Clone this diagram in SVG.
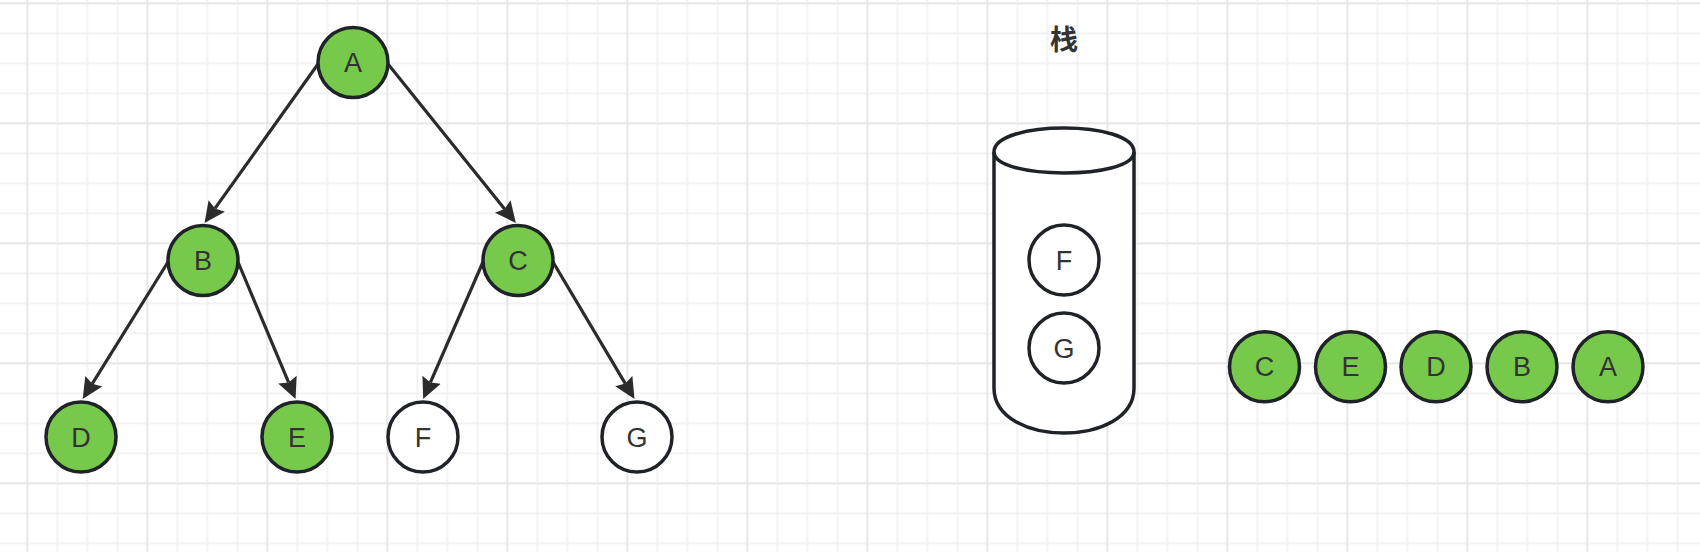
<svg xmlns="http://www.w3.org/2000/svg" width="1700" height="552" viewBox="0 0 1700 552">
  <defs>
    <pattern id="minor" x="26.5" y="2.5" width="30" height="30" patternUnits="userSpaceOnUse">
      <path d="M0.75,0 V30 M0,0.75 H30" fill="none" stroke="#efefef" stroke-width="1.5"/>
    </pattern>
    <pattern id="major" x="26.5" y="2.5" width="120" height="120" patternUnits="userSpaceOnUse">
      <path d="M0.75,0 V120 M0,0.75 H120" fill="none" stroke="#e4e4e4" stroke-width="1.5"/>
    </pattern>
    <marker id="arrow" viewBox="0 -11 22 22" refX="3" refY="0" markerWidth="22" markerHeight="22" markerUnits="userSpaceOnUse" orient="auto">
      <path d="M0,-10 L21,0 L0,10 L3,0 Z" fill="#2b2b2b"/>
    </marker>
    <style>
      .node { stroke: #1f2328; stroke-width: 3.5; }
      .green { fill: #76c94a; }
      .white { fill: #ffffff; }
      .label { font-family: "Liberation Sans", Arial, sans-serif; font-size: 27px; fill: #333333; text-anchor: middle; }
      .edge { fill: none; stroke: #2b2b2b; stroke-width: 3.2; marker-end: url(#arrow); }
      .title { font-family: "Liberation Sans", "Noto Sans CJK SC", sans-serif; font-size: 28px; font-weight: bold; fill: #333333; text-anchor: middle; }
    </style>
  </defs>
  <rect width="1700" height="552" fill="#ffffff"/>
  <rect width="1700" height="552" fill="url(#minor)"/>
  <rect width="1700" height="552" fill="url(#major)"/>

  <g id="connectors">
    <line class="edge" x1="318" y1="64" x2="215" y2="208.4"/>
    <line class="edge" x1="388" y1="64" x2="504.6" y2="208.9"/>
    <line class="edge" x1="168" y1="262" x2="92.2" y2="383.8"/>
    <line class="edge" x1="238" y1="262" x2="288.6" y2="382.4"/>
    <line class="edge" x1="483" y1="262" x2="430.4" y2="382.4"/>
    <line class="edge" x1="553" y1="262" x2="625.3" y2="383.6"/>
  </g>

  <g id="node-A"><circle class="node green" cx="353" cy="62.5" r="35"/><text class="label" x="353" y="72">A</text></g>
  <g id="node-B"><circle class="node green" cx="203" cy="260.5" r="35"/><text class="label" x="203" y="270">B</text></g>
  <g id="node-C"><circle class="node green" cx="518" cy="260.5" r="35"/><text class="label" x="518" y="270">C</text></g>
  <g id="node-D"><circle class="node green" cx="81" cy="437" r="35"/><text class="label" x="81" y="446.5">D</text></g>
  <g id="node-E"><circle class="node green" cx="297" cy="437" r="35"/><text class="label" x="297" y="446.5">E</text></g>
  <g id="node-F"><circle class="node white" cx="423" cy="437" r="35"/><text class="label" x="423" y="446.5">F</text></g>
  <g id="node-G"><circle class="node white" cx="637" cy="437" r="35"/><text class="label" x="637" y="446.5">G</text></g>

  <g id="stack-title"><text class="title" x="1064" y="49.5">栈</text></g>
  <g id="stack">
    <path class="node white" d="M994,152 C994,120 1134,120 1134,152 L1134,388 C1134,448 994,448 994,388 Z"/>
    <path class="node" fill="none" d="M994,152 C994,180 1134,180 1134,152"/>
  </g>
  <g id="stack-F"><circle class="node white" cx="1064" cy="260" r="35"/><text class="label" x="1064" y="269.5">F</text></g>
  <g id="stack-G"><circle class="node white" cx="1064" cy="348" r="35"/><text class="label" x="1064" y="357.5">G</text></g>

  <g id="out-C"><circle class="node green" cx="1264.5" cy="366.7" r="35"/><text class="label" x="1264.5" y="376.2">C</text></g>
  <g id="out-E"><circle class="node green" cx="1350.5" cy="366.7" r="35"/><text class="label" x="1350.5" y="376.2">E</text></g>
  <g id="out-D"><circle class="node green" cx="1436" cy="366.7" r="35"/><text class="label" x="1436" y="376.2">D</text></g>
  <g id="out-B"><circle class="node green" cx="1522" cy="366.7" r="35"/><text class="label" x="1522" y="376.2">B</text></g>
  <g id="out-A"><circle class="node green" cx="1608" cy="366.7" r="35"/><text class="label" x="1608" y="376.2">A</text></g>
</svg>
